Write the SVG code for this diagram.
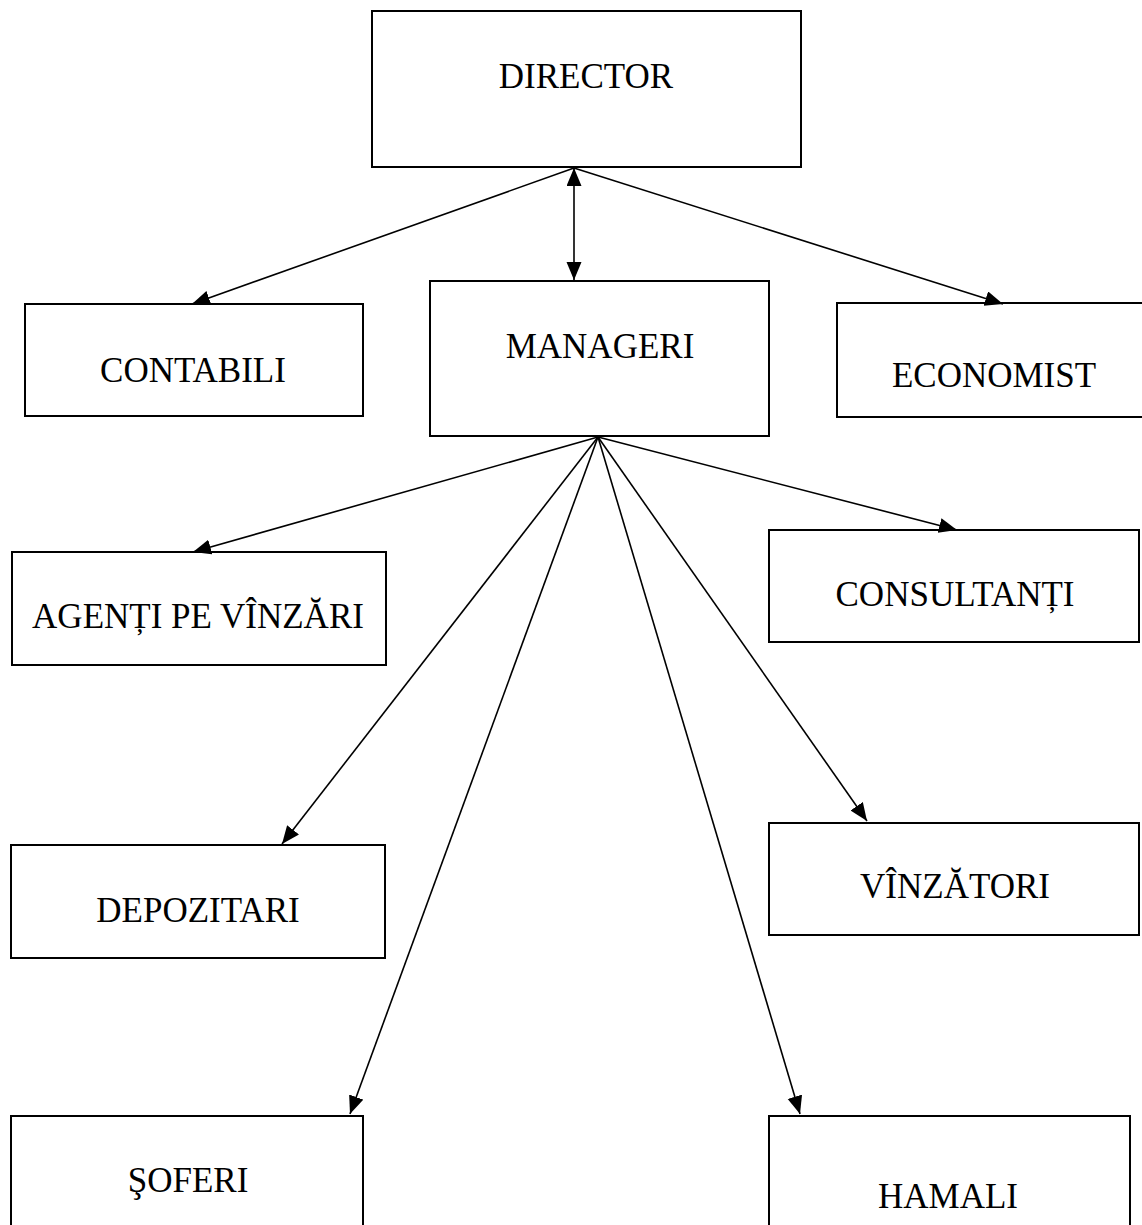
<svg xmlns="http://www.w3.org/2000/svg" width="1142" height="1225" viewBox="0 0 1142 1225">
<style>
.box{fill:#fff;stroke:#000;stroke-width:2}
.lbl{font-family:"Liberation Serif","Times New Roman",serif;font-size:35px;fill:#000;text-anchor:middle}
.edge{stroke:#000;stroke-width:1.6;fill:none;marker-end:url(#ah)}
</style>
<defs>
<marker id="ah" markerUnits="userSpaceOnUse" markerWidth="20" markerHeight="16" refX="18" refY="7.5" orient="auto-start-reverse">
<path d="M0,0 L18,7.5 L0,15 z" fill="#000"/>
</marker>
</defs>
<rect width="1142" height="1225" fill="#fff"/>
<g id="n-director"><rect class="box" x="372" y="11" width="429" height="156"/><text class="lbl" x="586" y="88">DIRECTOR</text></g>
<g id="n-manageri"><rect class="box" x="430" y="281" width="339" height="155"/><text class="lbl" x="600" y="358">MANAGERI</text></g>
<g id="n-contabili"><rect class="box" x="25" y="304" width="338" height="112"/><text class="lbl" x="193" y="382">CONTABILI</text></g>
<g id="n-economist"><rect class="box" x="837" y="303" width="310" height="114"/><text class="lbl" x="994" y="387">ECONOMIST</text></g>
<g id="n-agenti"><rect class="box" x="12" y="552" width="374" height="113"/><text class="lbl" x="198" y="628">AGENȚI PE VÎNZĂRI</text></g>
<g id="n-consultanti"><rect class="box" x="769" y="530" width="370" height="112"/><text class="lbl" x="955" y="606">CONSULTANȚI</text></g>
<g id="n-depozitari"><rect class="box" x="11" y="845" width="374" height="113"/><text class="lbl" x="198" y="922">DEPOZITARI</text></g>
<g id="n-vinzatori"><rect class="box" x="769" y="823" width="370" height="112"/><text class="lbl" x="955" y="898">VÎNZĂTORI</text></g>
<g id="n-soferi"><rect class="box" x="11" y="1116" width="352" height="130"/><text class="lbl" x="188" y="1192">ŞOFERI</text></g>
<g id="n-hamali"><rect class="box" x="769" y="1116" width="361" height="130"/><text class="lbl" x="948" y="1208">HAMALI</text></g>
<g id="connectors">
<line class="edge" x1="574" y1="168" x2="192" y2="304"/>
<line class="edge" x1="574" y1="168" x2="1003" y2="304"/>
<line class="edge" x1="574" y1="168" x2="574" y2="280" style="marker-start:url(#ah)"/>
<line class="edge" x1="598" y1="437" x2="193" y2="552"/>
<line class="edge" x1="598" y1="437" x2="957" y2="530"/>
<line class="edge" x1="598" y1="437" x2="282" y2="844"/>
<line class="edge" x1="598" y1="437" x2="867" y2="821"/>
<line class="edge" x1="598" y1="437" x2="350" y2="1114"/>
<line class="edge" x1="598" y1="437" x2="800" y2="1114"/>
</g>
</svg>
